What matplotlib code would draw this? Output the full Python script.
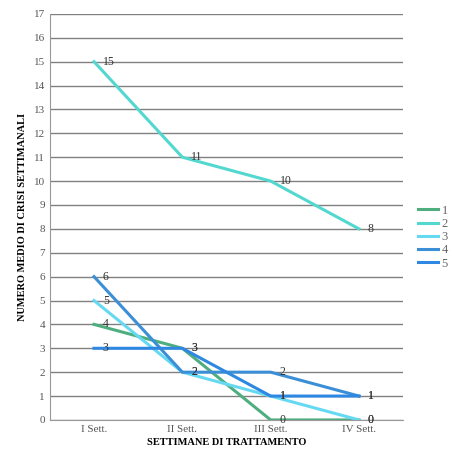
import matplotlib.pyplot as plt
import numpy as np

weeks = ["I Sett.", "II Sett.", "III Sett.", "IV Sett."]
series_names = ["1", "2", "3", "4", "5"]
s1 = [4, 3, 0, 0]
s2 = [15, 11, 10, 8]
s3 = [5, 2, 1, 0]
s4 = [6, 2, 2, 1]
s5 = [3, 3, 1, 1]
colors = ["#4fae7f", "#52d8cf", "#66d9f2", "#3b8fd6", "#2e88e2"]

plt.rcParams['font.family'] = ['Liberation Serif', 'DejaVu Serif']

fig = plt.figure(figsize=(4.53, 4.63), dpi=100)
ax = fig.add_axes([0.11, 0.093, 0.78, 0.877])

x = np.arange(len(weeks)) + 0.5
for name, vals, c in zip(series_names, [s1, s2, s3, s4, s5], colors):
	ax.plot(x, vals, color=c, lw=2.2, label=name)
	for xi, v in zip(x, vals):
		ax.text(xi + 0.1, v, str(v), fontsize=8.5, color="#333333", va="center", ha="left")

ax.set_xlim(0, 4)
ax.set_ylim(0, 17)
ax.set_yticks(range(0, 18))
ax.set_xticks(x)
ax.set_xticklabels(weeks)
ax.tick_params(length=0, labelsize=8, colors="#555555")
ax.grid(axis="y", color="#808080", lw=1.0)
ax.set_axisbelow(True)
for s in ["top", "right"]:
	ax.spines[s].set_visible(False)
ax.spines["left"].set_color("#999999")
ax.spines["bottom"].set_color("#999999")

ax.set_xlabel("SETTIMANE DI TRATTAMENTO", fontsize=7.5, fontweight="bold", labelpad=3)
ax.set_ylabel("NUMERO MEDIO DI CRISI SETTIMANALI", fontsize=7.5, fontweight="bold", labelpad=5)

ax.legend(loc="center left", bbox_to_anchor=(1.01, 0.45), frameon=False, fontsize=9,
	handlelength=1.6, labelspacing=0.1, handletextpad=0.3, labelcolor="#666666")

fig.savefig("out.png", dpi=100)
